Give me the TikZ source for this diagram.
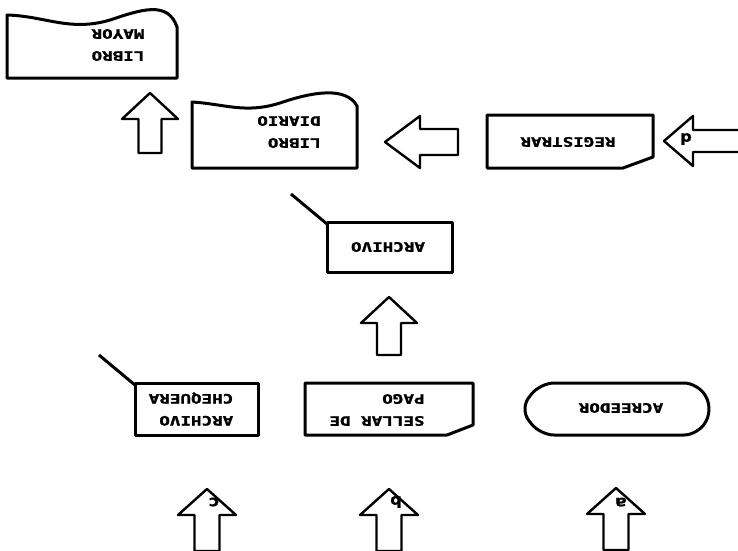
\documentclass[tikz,border=0pt]{standalone}
\usepackage{fontspec}
\newfontfamily\dotfont{DejaVu Sans Mono}[UprightFont=* Bold, FakeBold=1.2]
\tikzset{
  outline/.style={draw=black, line width=3pt, line join=round, fill=white},
  arrowline/.style={draw=black, line width=2.4pt, line join=round, fill=white},
  lbl/.style={font=\dotfont\fontsize{13}{22}\selectfont, align=left,
              inner sep=0pt, rotate=180, xscale=1.35},
  tag/.style={font=\dotfont\fontsize{15}{15}\selectfont,
              inner sep=0pt, rotate=180, xscale=1.3},
  pics/blockarrow/.style n args={4}{code={
    % #1 head length, #2 head half width, #3 shaft half width, #4 total length
    \draw[arrowline] (0,0) -- (#2,#1) -- (#3,#1) -- (#3,#4) -- (-#3,#4)
      -- (-#3,#1) -- (-#2,#1) -- cycle;
  }}
}
\begin{document}
\begin{tikzpicture}[x=1pt,y=-1pt]
\clip (0,0) rectangle (738,550);
\fill[white] (0,0) rectangle (738,550);

% ledger documents (wavy edge)
\path[outline] (7,78) -- (7,15) .. controls (45,16) and (70,32) .. (110,20)
  .. controls (140,10) and (168,0) .. (177,27) -- (177,78) -- cycle;
\node[lbl] (mayor) at (118,45) {LIBRO\\MAYOR};

\path[outline] (192,168) -- (192,102) .. controls (225,104) and (245,114) .. (280,103)
  .. controls (312,92) and (346,86) .. (357,106) -- (357,168) -- cycle;
\node[lbl] (diario) at (289,132) {LIBRO\\DIARIO};

% card shape
\path[outline] (487,115) -- (653,115) -- (653,157) -- (623,168) -- (487,168) -- cycle;
\node[lbl] (registrar) at (568,142) {REGISTRAR};

% file boxes with flag line
\path[outline] (327,222) rectangle (452,272);
\draw[line width=3pt] (327,224) -- (291,194);
\node[lbl] (archivo) at (388,247) {ARCHIVO};

\path[outline] (135,383) rectangle (258,435);
\draw[line width=3pt] (135,385) -- (99,355);
\node[lbl] (chequera) at (191,409) {ARCHIVO\\CHEQUERA};

\path[outline] (305,383) -- (473,383) -- (473,425) -- (447,435) -- (305,435) -- cycle;
\node[lbl] (sellar) at (377,410) {SELLAR DE\\PAGO};

% terminal
\path[outline, rounded corners=14pt] (540,383) -- (698,383) -- (713,409) -- (698,435)
  -- (540,435) -- (520,409) -- cycle;
\node[lbl] (acreedor) at (621,408) {ACREEDOR};

% block arrows
\pic at (150,93) {blockarrow={26}{28}{11.5}{60}};
\pic at (389,297) {blockarrow={26}{28}{12}{58}};
\pic[rotate=90] at (385,142) {blockarrow={35}{26}{13}{73}};
\pic[rotate=90] at (664,141) {blockarrow={29}{25}{11}{90}};
\pic at (207,489) {blockarrow={26}{29}{12.5}{62}};
\pic at (389,489) {blockarrow={26}{29}{12.5}{62}};
\pic at (616,488) {blockarrow={26}{29}{12.5}{62}};

% connector letters
\node[tag] (ta) at (621,502) {a};
\node[tag] (tb) at (396,502) {b};
\node[tag] (tc) at (214,502) {c};
\node[tag] (td) at (686,139) {d};
\end{tikzpicture}
\end{document}
